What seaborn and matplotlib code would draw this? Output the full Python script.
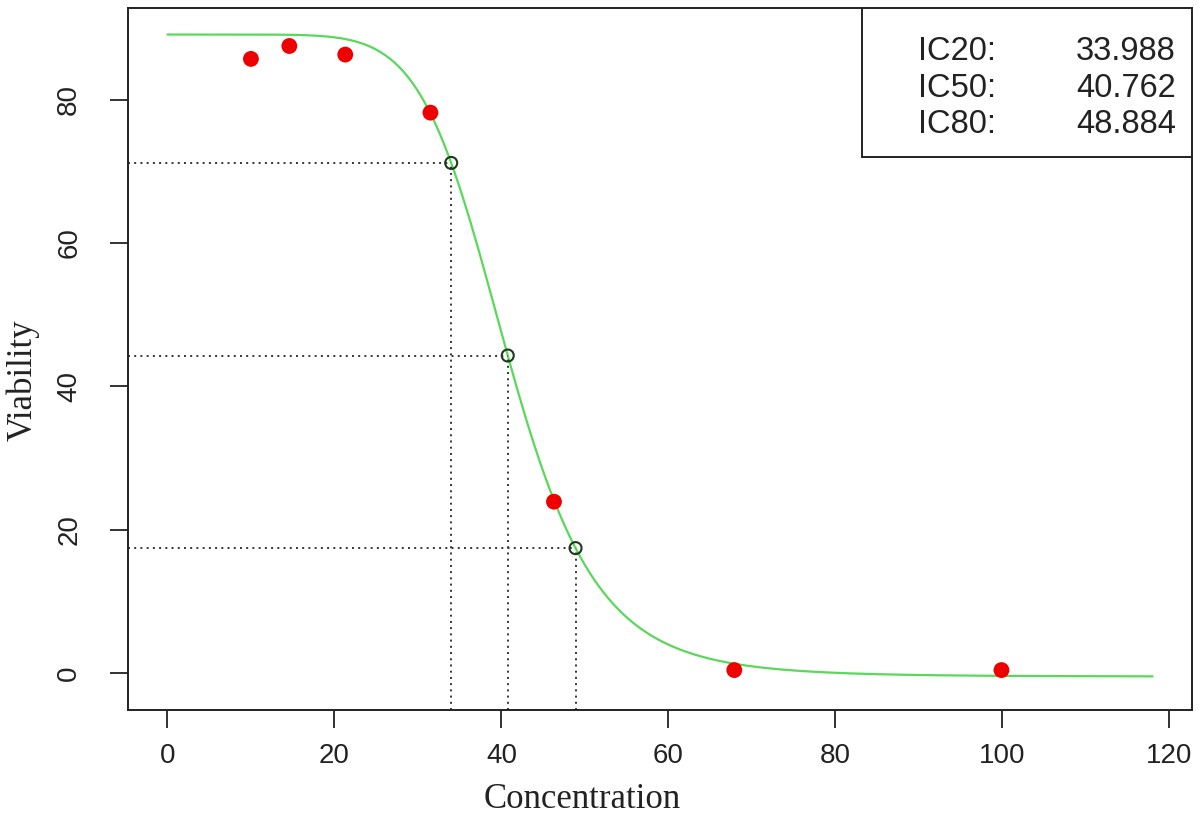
import numpy as np
import pandas as pd
import matplotlib
matplotlib.use("Agg")
import matplotlib.pyplot as plt
from matplotlib.patches import Rectangle
import seaborn as sns

# observed viability points
conc = [10, 14.6, 21.3, 31.5, 46.3, 67.9, 99.9]
viability = [85.7, 87.5, 86.3, 78.2, 23.9, 0.4, 0.4]

top, bottom = 89.1, -0.5
ic_labels = ["IC20:", "IC50:", "IC80:"]
ic_values = [33.988, 40.762, 48.884]
ic_fractions = [0.8, 0.5, 0.2]
hill = 7.63
x_max = 118

sns.set_style("ticks")
plt.rcParams['font.family'] = ['Liberation Sans', 'DejaVu Sans']

fig = plt.figure(figsize=(12, 8.19), dpi=100)
ax = fig.add_axes([0.1067, 0.1331, 0.8866, 0.8571])

xs = np.linspace(0, x_max, 400)
ys = bottom + (top - bottom) / (1 + (xs / ic_values[1]) ** hill)
curve = pd.DataFrame({"x": xs, "y": ys})
sns.lineplot(data=curve, x="x", y="y", ax=ax, color="#5ad85a", linewidth=1.6)

ic_y = [bottom + f * (top - bottom) for f in ic_fractions]
xlim = (-4.72, 122.72)
ylim = (-5.17, 92.8)
for xv, yv in zip(ic_values, ic_y):
    ax.plot([xlim[0], xv], [yv, yv], color="#333333", linestyle=(0, (1, 2.2)), linewidth=1.4)
    ax.plot([xv, xv], [ylim[0], yv], color="#333333", linestyle=(0, (1, 2.2)), linewidth=1.4)
ax.scatter(ic_values, ic_y, s=75, facecolors="none", edgecolors="#1e3a1e", linewidths=1.5, zorder=4)

pts = pd.DataFrame({"Concentration": conc, "Viability": viability})
sns.scatterplot(data=pts, x="Concentration", y="Viability", ax=ax, color="#ee0000",
                s=130, edgecolor="none", zorder=5)

ax.set_xlim(*xlim)
ax.set_ylim(*ylim)
ax.set_xticks([0, 20, 40, 60, 80, 100, 120])
ax.set_yticks([0, 20, 40, 60, 80])
ax.tick_params(axis="both", direction="out", length=13, width=1.3, labelsize=20, colors="#222222")
ax.tick_params(axis="x", pad=11)
ax.tick_params(axis="y", pad=20)
for lbl in ax.get_yticklabels():
    lbl.set_rotation(90)
    lbl.set_va("center")
for s in ax.spines.values():
    s.set_visible(True)
    s.set_linewidth(1.4)
    s.set_color("#222222")

ax.set_xlabel("Concentration", fontsize=25, family="Liberation Serif", color="#222222")
ax.set_ylabel("Viability", fontsize=25, family="Liberation Serif", color="#222222")
ax.xaxis.set_label_coords(0.427, -0.128)
ax.xaxis.label.set_va("center")
ax.yaxis.set_label_coords(-0.0987, 0.47)
ax.yaxis.label.set_va("center")

# legend box with IC values
ax.add_patch(Rectangle((0.690, 0.788), 0.31, 0.212, transform=ax.transAxes,
                       facecolor="white", edgecolor="#222222", linewidth=1.4, zorder=6))
for i, (lab, val) in enumerate(zip(ic_labels, ic_values)):
    yy = 0.9259 - i * 0.0522
    ax.text(0.7425, yy, lab, transform=ax.transAxes, fontsize=23.5, va="baseline", ha="left", zorder=7, color="#222222")
    ax.text(0.985, yy, f"{val:.3f}", transform=ax.transAxes, fontsize=23.5, va="baseline", ha="right", zorder=7, color="#222222")

fig.savefig("out.png", dpi=100)
